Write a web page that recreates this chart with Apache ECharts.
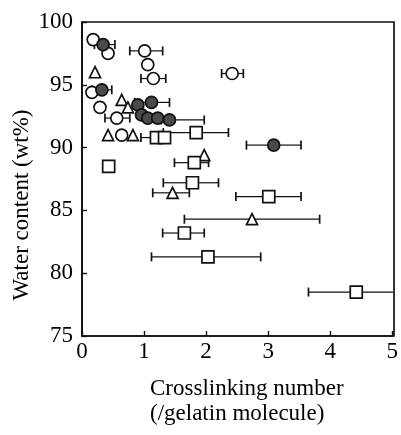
<!DOCTYPE html>
<html><head><meta charset="utf-8">
<script src="https://cdn.jsdelivr.net/npm/echarts@6/dist/echarts.min.js"></script>
<style>html,body{margin:0;padding:0;background:#fff}#c{width:401px;height:435px}</style>
</head><body><div id="c"></div>
<script>
// [x, y, errLow, errHigh]
const openCircles = [
  [0.18, 98.6, null, null], [0.42, 97.5, null, null], [1.01, 97.7, 0.77, 1.30],
  [1.06, 96.6, null, null], [1.15, 95.5, 0.95, 1.35], [2.42, 95.9, 2.25, 2.60],
  [0.16, 94.4, null, null], [0.29, 93.2, null, null], [0.56, 92.35, 0.37, 0.77],
  [0.64, 91.0, null, null]
];
const grayCircles = [
  [0.34, 98.2, 0.20, 0.53], [0.32, 94.6, 0.16, 0.48], [0.90, 93.4, null, null],
  [1.12, 93.6, 0.85, 1.41], [0.96, 92.6, null, null], [1.06, 92.35, null, null],
  [1.22, 92.35, null, null], [1.41, 92.2, 1.28, 1.97], [3.09, 90.2, 2.65, 3.53]
];
const triangles = [
  [0.21, 96.0, null, null], [0.64, 93.8, null, null], [0.74, 93.2, null, null],
  [0.42, 91.0, null, null], [0.82, 91.0, null, null], [1.97, 89.4, null, null],
  [1.46, 86.4, 1.14, 1.73], [2.74, 84.3, 1.65, 3.83]
];
const squares = [
  [0.43, 88.5, null, null], [1.20, 90.8, 0.95, null], [1.33, 90.8, null, null],
  [1.84, 91.2, 1.31, 2.36], [1.81, 88.8, 1.49, 2.04], [1.78, 87.2, 1.31, 2.20],
  [3.01, 86.1, 2.48, 3.53], [1.65, 83.2, 1.30, 1.97], [2.03, 81.3, 1.12, 2.88],
  [4.42, 78.5, 3.65, 5.19]
];
const xTicks = [0, 1, 2, 3, 4, 5];
const yTicks = [75, 80, 85, 90, 95, 100];
const xTitle = ['Crosslinking number', '(/gelatin molecule)'];
const yTitle = 'Water content (wt%)';

const all = [].concat(openCircles, grayCircles, triangles, squares);
const errData = all.map(d => [d[0], d[1], d[2] == null ? d[0] : d[2], d[3] == null ? d[0] : d[3]]);

const font = 'Liberation Serif';
const chart = echarts.init(document.getElementById('c'));
function errRender(params, api) {
  const y = api.value(1);
  const lo = api.coord([api.value(2), y]);
  const hi = api.coord([api.value(3), y]);
  const c = api.coord([api.value(0), y]);
  const ch = 4.5;
  const kids = [];
  if (lo[0] < c[0] - 0.5) {
    kids.push({type: 'line', shape: {x1: lo[0], y1: lo[1], x2: c[0], y2: c[1]}, style: {stroke: '#111', lineWidth: 1.2}});
    kids.push({type: 'line', shape: {x1: lo[0], y1: lo[1] - ch, x2: lo[0], y2: lo[1] + ch}, style: {stroke: '#111', lineWidth: 1.7}});
  }
  if (hi[0] > c[0] + 0.5) {
    kids.push({type: 'line', shape: {x1: c[0], y1: c[1], x2: hi[0], y2: hi[1]}, style: {stroke: '#111', lineWidth: 1.2}});
    kids.push({type: 'line', shape: {x1: hi[0], y1: hi[1] - ch, x2: hi[0], y2: hi[1] + ch}, style: {stroke: '#111', lineWidth: 1.7}});
  }
  return {type: 'group', children: kids};
}
const mk = (data, symbol, size, fill) => ({
  type: 'scatter', data: data.map(d => [d[0], d[1]]), symbol: symbol, symbolSize: size,
  itemStyle: {color: fill, borderColor: '#111', borderWidth: 1.7, opacity: 1}, z: 3
});
chart.setOption({
  animation: false,
  grid: {left: 82, right: 7, top: 22, bottom: 99},
  xAxis: {
    type: 'value', min: 0, max: 5, interval: 1,
    axisLine: {lineStyle: {color: '#111', width: 1.7}},
    axisTick: {inside: true, length: 5, lineStyle: {color: '#111', width: 1.4}},
    axisLabel: {color: '#000', fontFamily: font, fontSize: 23, margin: 4,
      formatter: v => xTicks.indexOf(v) >= 0 ? String(v) : ''},
    splitLine: {show: false}
  },
  yAxis: {
    type: 'value', min: 75, max: 100, interval: 5,
    axisLine: {lineStyle: {color: '#111', width: 1.7}},
    axisTick: {inside: true, length: 5, lineStyle: {color: '#111', width: 1.4}},
    axisLabel: {color: '#000', fontFamily: font, fontSize: 23, margin: 9,
      formatter: v => yTicks.indexOf(v) >= 0 ? String(v) : ''},
    splitLine: {show: false}
  },
  graphic: [
    {type: 'rect', shape: {x: 82, y: 22, width: 312, height: 314}, style: {fill: 'none', stroke: '#111', lineWidth: 1.7}, silent: true, z: 0},
    {type: 'text', x: 22, y: 205, rotation: Math.PI / 2,
      style: {text: yTitle, font: '23px "Liberation Serif"', fill: '#000', align: 'center', verticalAlign: 'middle'}},
    {type: 'text', x: 150, y: 376, style: {text: xTitle.join('\n'), font: '23px "Liberation Serif"', fill: '#000', lineHeight: 25}}
  ],
  series: [
    {type: 'custom', data: errData, renderItem: errRender, clip: true, z: 2},
    mk(openCircles, 'circle', 12, '#fff'),
    mk(triangles, 'triangle', 11, '#fff'),
    mk(squares, 'rect', 12, '#fff'),
    mk(grayCircles, 'circle', 12, '#4a4a4a')
  ]
});
</script></body></html>
